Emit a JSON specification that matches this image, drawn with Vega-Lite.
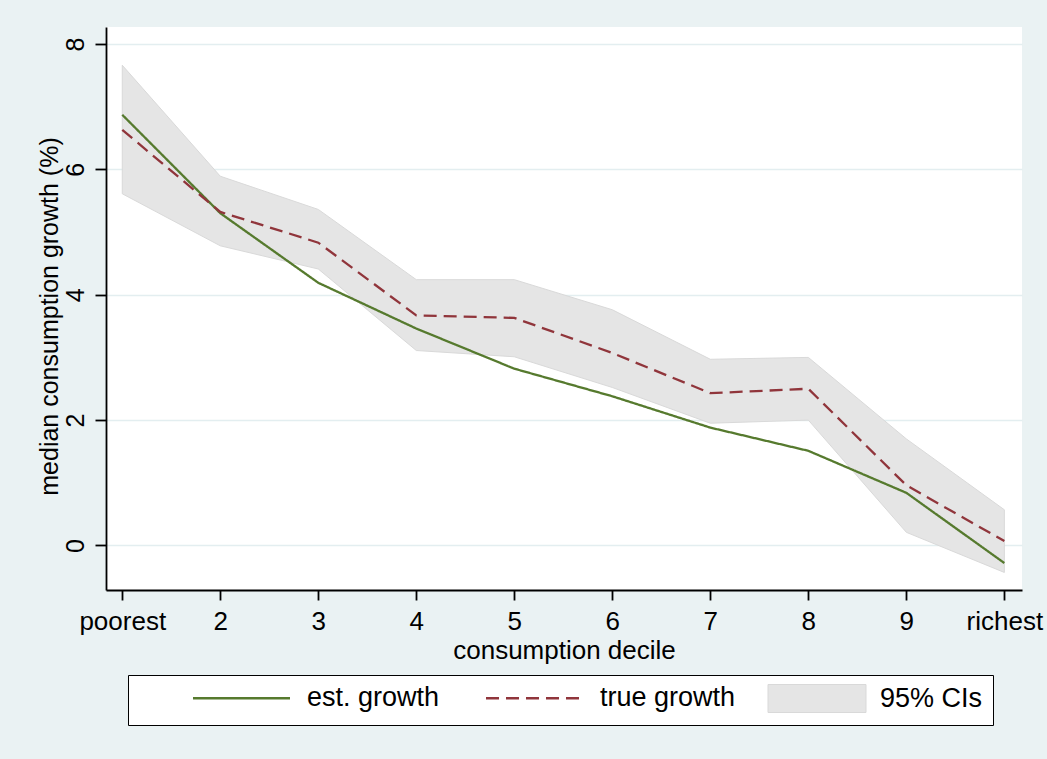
{
  "$schema": "https://vega.github.io/schema/vega-lite/v6.json",
  "width": 916,
  "height": 563,
  "autosize": {"type": "none"},
  "padding": {"left": 106, "top": 27, "right": 25, "bottom": 169},
  "background": "#eaf2f3",
  "config": {
    "font": "Liberation Sans",
    "view": {"fill": "white", "stroke": null},
    "axis": {"domainColor": "black", "domainWidth": 1.8, "tickColor": "black", "tickWidth": 1.8, "labelColor": "black", "titleColor": "black", "labelFontSize": 25, "titleFontSize": 25, "titleFontWeight": "normal", "labelFont": "Liberation Sans", "titleFont": "Liberation Sans"}
  },
  "datasets": {
    "ci": [
      {"decile": 1, "lo": 5.61, "hi": 7.66, "series": "95% CIs"},
      {"decile": 2, "lo": 4.78, "hi": 5.89, "series": "95% CIs"},
      {"decile": 3, "lo": 4.41, "hi": 5.36, "series": "95% CIs"},
      {"decile": 4, "lo": 3.11, "hi": 4.24, "series": "95% CIs"},
      {"decile": 5, "lo": 3.01, "hi": 4.24, "series": "95% CIs"},
      {"decile": 6, "lo": 2.52, "hi": 3.76, "series": "95% CIs"},
      {"decile": 7, "lo": 1.95, "hi": 2.97, "series": "95% CIs"},
      {"decile": 8, "lo": 2.00, "hi": 3.00, "series": "95% CIs"},
      {"decile": 9, "lo": 0.21, "hi": 1.70, "series": "95% CIs"},
      {"decile": 10, "lo": -0.43, "hi": 0.57, "series": "95% CIs"}
    ],
    "lines": [
      {"decile": 1, "series": "est. growth", "value": 6.87},
      {"decile": 2, "series": "est. growth", "value": 5.30},
      {"decile": 3, "series": "est. growth", "value": 4.19},
      {"decile": 4, "series": "est. growth", "value": 3.46},
      {"decile": 5, "series": "est. growth", "value": 2.82},
      {"decile": 6, "series": "est. growth", "value": 2.38},
      {"decile": 7, "series": "est. growth", "value": 1.88},
      {"decile": 8, "series": "est. growth", "value": 1.51},
      {"decile": 9, "series": "est. growth", "value": 0.84},
      {"decile": 10, "series": "est. growth", "value": -0.28},
      {"decile": 1, "series": "true growth", "value": 6.63},
      {"decile": 2, "series": "true growth", "value": 5.32},
      {"decile": 3, "series": "true growth", "value": 4.83},
      {"decile": 4, "series": "true growth", "value": 3.67},
      {"decile": 5, "series": "true growth", "value": 3.63},
      {"decile": 6, "series": "true growth", "value": 3.07},
      {"decile": 7, "series": "true growth", "value": 2.43},
      {"decile": 8, "series": "true growth", "value": 2.50},
      {"decile": 9, "series": "true growth", "value": 0.96},
      {"decile": 10, "series": "true growth", "value": 0.07}
    ]
  },
  "encoding": {
    "x": {
      "field": "decile", "type": "quantitative",
      "scale": {"domain": [0.834, 10.18], "nice": false, "zero": false},
      "axis": {
        "title": "consumption decile",
        "values": [1, 2, 3, 4, 5, 6, 7, 8, 9, 10],
        "labelExpr": "datum.value == 1 ? 'poorest' : datum.value == 10 ? 'richest' : datum.label",
        "grid": false, "tickSize": 10, "labelPadding": 29, "labelBaseline": "alphabetic",
        "labelFontSize": 26, "titleFontSize": 26,
        "labelFlush": false, "labelOverlap": false,
        "titleX": 458, "titleY": 68, "titleBaseline": "alphabetic", "titleAlign": "center", "titleAnchor": null
      }
    }
  },
  "layer": [
    {
      "data": {"name": "ci"},
      "mark": {"type": "area", "stroke": "#d9d9d9", "strokeWidth": 1, "opacity": 1, "fillOpacity": 1},
      "encoding": {
        "y": {
          "field": "lo", "type": "quantitative",
          "scale": {"domain": [-0.71, 8.27], "nice": false, "zero": false},
          "axis": {
            "title": "median consumption growth (%)",
            "values": [0, 2, 4, 6, 8], "format": "d",
            "grid": true, "gridColor": "#e3eef0", "gridWidth": 1.5,
            "tickSize": 11, "labelAngle": 270, "labelAlign": "center", "labelBaseline": "alphabetic", "labelPadding": 12,
            "titleAngle": 270, "titleX": -49, "titleY": 289, "titleBaseline": "alphabetic", "titleAlign": "center", "titleAnchor": null
          }
        },
        "y2": {"field": "hi"},
        "fill": {
          "field": "series", "type": "nominal",
          "scale": {"domain": ["95% CIs"], "range": ["#e5e5e5"]},
          "legend": {
            "orient": "none", "legendX": 22, "legendY": 648,
            "direction": "horizontal",
            "title": "\u00a0", "titleOrient": "left", "titleFontSize": 1, "titlePadding": 630,
            "padding": 10, "strokeColor": "black", "fillColor": "white",
            "symbolType": "M-2.7,-2.8H16.9V2.8H-2.7Z", "symbolSize": 100, "symbolStrokeWidth": 1,
            "symbolStrokeColor": "#d9d9d9", "symbolFillColor": "#e5e5e5", "symbolOpacity": 1,
            "labelFontSize": 27, "labelFont": "Liberation Sans", "labelColor": "black", "labelOffset": 85, "labelLimit": 400
          }
        }
      }
    },
    {
      "data": {"name": "lines"},
      "mark": {"type": "line", "strokeWidth": 2.3},
      "encoding": {
        "y": {"field": "value", "type": "quantitative"},
        "color": {
          "field": "series", "type": "nominal",
          "scale": {"domain": ["est. growth", "true growth"], "range": ["#567a2e", "#90353b"]},
          "legend": {
            "orient": "none", "legendX": 87, "legendY": 657.5,
            "direction": "horizontal", "columns": 2, "title": null,
            "padding": 0,
            "symbolType": "M-2.7,0H16.7", "symbolSize": 100, "symbolStrokeWidth": 2.3,
            "labelFontSize": 27, "labelFont": "Liberation Sans", "labelColor": "black", "labelOffset": 87,
            "columnPadding": 41, "labelLimit": 400
          }
        },
        "strokeDash": {
          "field": "series", "type": "nominal",
          "scale": {"domain": ["est. growth", "true growth"], "range": [[1, 0], [13, 7]]}
        }
      }
    }
  ]
}
